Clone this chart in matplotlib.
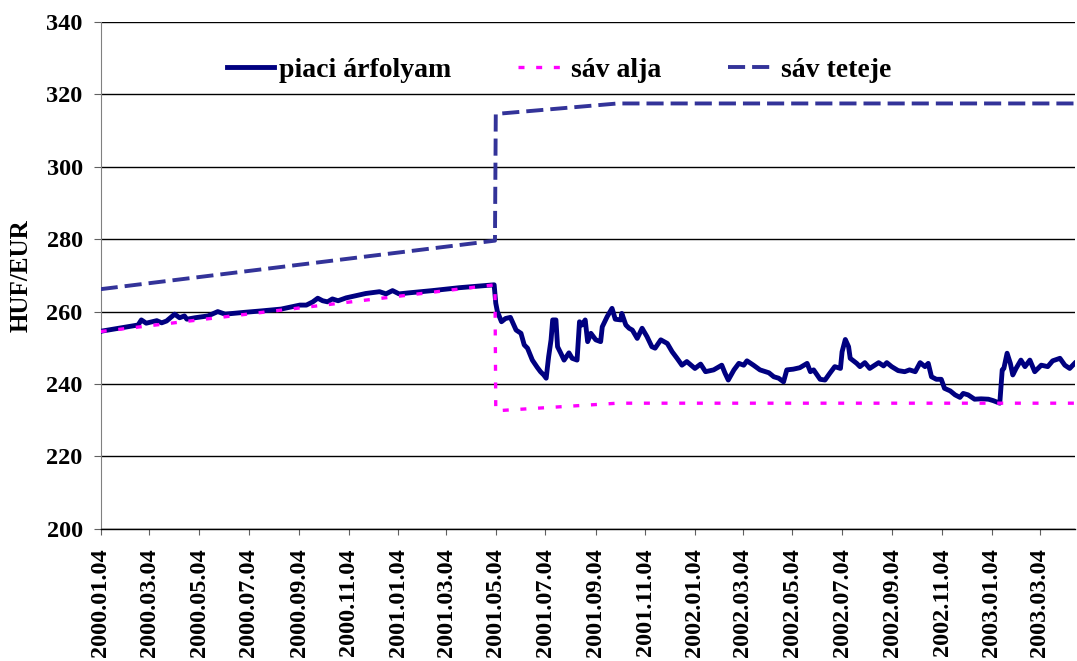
import numpy as np
import matplotlib
matplotlib.use("Agg")
import matplotlib.pyplot as plt
import matplotlib.dates as mdates

plt.rcParams["font.family"] = ["Liberation Serif", "DejaVu Serif"]
plt.rcParams["font.weight"] = "bold"

start = np.datetime64("2000-01-04")

# piaci árfolyam: days after 2000.01.04 and HUF/EUR value
mkt_day = [0, 1, 46, 50, 56, 69, 75, 81, 91, 97, 103, 106, 116, 132, 144, 153,
           177, 198, 222, 245, 253, 261, 267, 273, 279, 285, 292, 302, 314, 326,
           343, 351, 359, 367, 380, 408, 441, 484, 486, 488, 493, 498, 504, 511,
           517, 521, 525, 531, 537, 541, 545, 548, 551, 554, 556, 560, 562, 566,
           570, 576, 580, 586, 589, 592, 596, 599, 603, 609, 615, 617, 623, 629,
           633, 640, 641, 646, 650, 654, 660, 666, 672, 678, 682, 689, 697, 703,
           709, 715, 721, 731, 738, 744, 754, 764, 768, 772, 779, 785, 791, 795,
           803, 811, 822, 828, 834, 840, 844, 852, 860, 869, 873, 877, 885, 891,
           897, 903, 910, 912, 916, 920, 922, 930, 934, 940, 946, 957, 963, 967,
           973, 981, 989, 995, 1002, 1008, 1014, 1018, 1022, 1028, 1034, 1038,
           1045, 1051, 1057, 1061, 1067, 1075, 1083, 1092, 1098, 1106, 1109,
           1111, 1115, 1119, 1122, 1126, 1132, 1137, 1143, 1149, 1157, 1165,
           1171, 1180, 1186, 1192, 1198]
mkt_val = [254.5, 254.6, 256.3, 257.7, 256.8, 257.5, 256.9, 257.4, 259.3, 258.3,
           258.8, 257.9, 258.3, 258.8, 260.0, 259.3, 259.8, 260.2, 260.7, 261.8,
           261.8, 262.7, 263.7, 263.0, 262.7, 263.5, 263.0, 263.8, 264.4, 265.0,
           265.5, 264.9, 265.8, 264.9, 265.2, 265.8, 266.6, 267.4, 262.3, 260.0,
           257.2, 258.1, 258.4, 254.9, 254.0, 250.8, 249.9, 246.6, 244.6, 243.4,
           242.5, 241.6, 247.5, 252.2, 257.7, 257.7, 250.3, 248.5, 246.6, 248.6,
           247.1, 246.6, 257.2, 256.3, 257.7, 251.7, 254.0, 252.2, 251.7, 255.8,
           258.6, 260.9, 257.9, 257.7, 259.5, 256.3, 255.4, 254.9, 252.6, 255.4,
           253.1, 250.3, 249.9, 252.2, 251.2, 248.9, 247.1, 245.2, 246.2, 244.3,
           245.5, 243.4, 243.9, 245.2, 243.0, 241.1, 243.9, 245.7, 245.2, 246.4,
           245.2, 243.9, 243.1, 242.0, 241.6, 240.6, 243.9, 244.1, 244.5, 245.7,
           243.4, 243.9, 241.3, 241.1, 243.0, 244.8, 244.3, 248.9, 252.3, 250.3,
           247.1, 245.7, 244.8, 245.9, 244.3, 245.9, 245.0, 245.9, 244.8, 243.7,
           243.4, 243.9, 243.4, 245.9, 244.8, 245.7, 242.0, 241.3, 241.3, 238.8,
           238.1, 237.0, 236.3, 237.4, 237.0, 235.8, 235.9, 235.8, 235.4, 234.7,
           243.9, 244.3, 248.5, 245.7, 242.5, 244.3, 246.6, 244.8, 246.6, 243.4,
           245.2, 244.8, 246.4, 247.1, 245.2, 244.3, 245.7]

# band edges (breakpoints)
band_day = [0, 485, 486, 636, 1198]
bottom_val = [254.5, 267.4, 232.6, 234.7, 234.7]
top_val = [266.2, 279.6, 314.6, 317.5, 317.5]

mkt_x = start + np.array(mkt_day).astype("timedelta64[D]")
band_x = start + np.array(band_day).astype("timedelta64[D]")

fig = plt.figure(figsize=(10.77, 6.61), dpi=100)
ax = fig.add_axes([0.0935, 0.2, 0.905, 0.7667])

ax.plot(mkt_x, mkt_val, color="#000080", lw=3.5, label="piaci árfolyam",
        solid_joinstyle="round", zorder=3)
ax.plot(band_x, bottom_val, color="#FF00FF", lw=2.4, ls=(0, (1.8, 3.5)),
        label="sáv alja", zorder=4)
ax.plot(band_x, top_val, color="#333399", lw=2.8, ls=(0, (4.4, 1.8)),
        label="sáv teteje", zorder=4)

ax.set_ylim(200, 340)
ax.set_yticks(range(200, 341, 20))
ax.set_xlim(start, start + np.timedelta64(1199, "D"))
ax.xaxis.set_major_locator(mdates.MonthLocator(bymonth=[1, 3, 5, 7, 9, 11], bymonthday=4))
ax.xaxis.set_major_formatter(mdates.DateFormatter("%Y.%m.%d"))
ax.grid(axis="y", color="black", lw=1.0)
ax.set_axisbelow(True)

for s in ["top", "right"]:
    ax.spines[s].set_visible(False)
ax.spines["left"].set_color("#808080")
ax.spines["bottom"].set_color("black")
ax.spines["bottom"].set_linewidth(1.0)
ax.tick_params(axis="y", labelsize=17.5, length=5, color="#606060", pad=8)
ax.tick_params(axis="x", labelsize=17.5, length=4, color="#606060", pad=10,
               labelrotation=90)
ax.set_ylabel("HUF/EUR", fontsize=18, fontweight="bold", labelpad=10)

ax.legend(loc="center", bbox_to_anchor=(0.47, 0.905), ncol=3, frameon=False,
          fontsize=20, handlelength=1.7, handletextpad=0.2, columnspacing=2.4)

fig.savefig("out.png", dpi=100)
